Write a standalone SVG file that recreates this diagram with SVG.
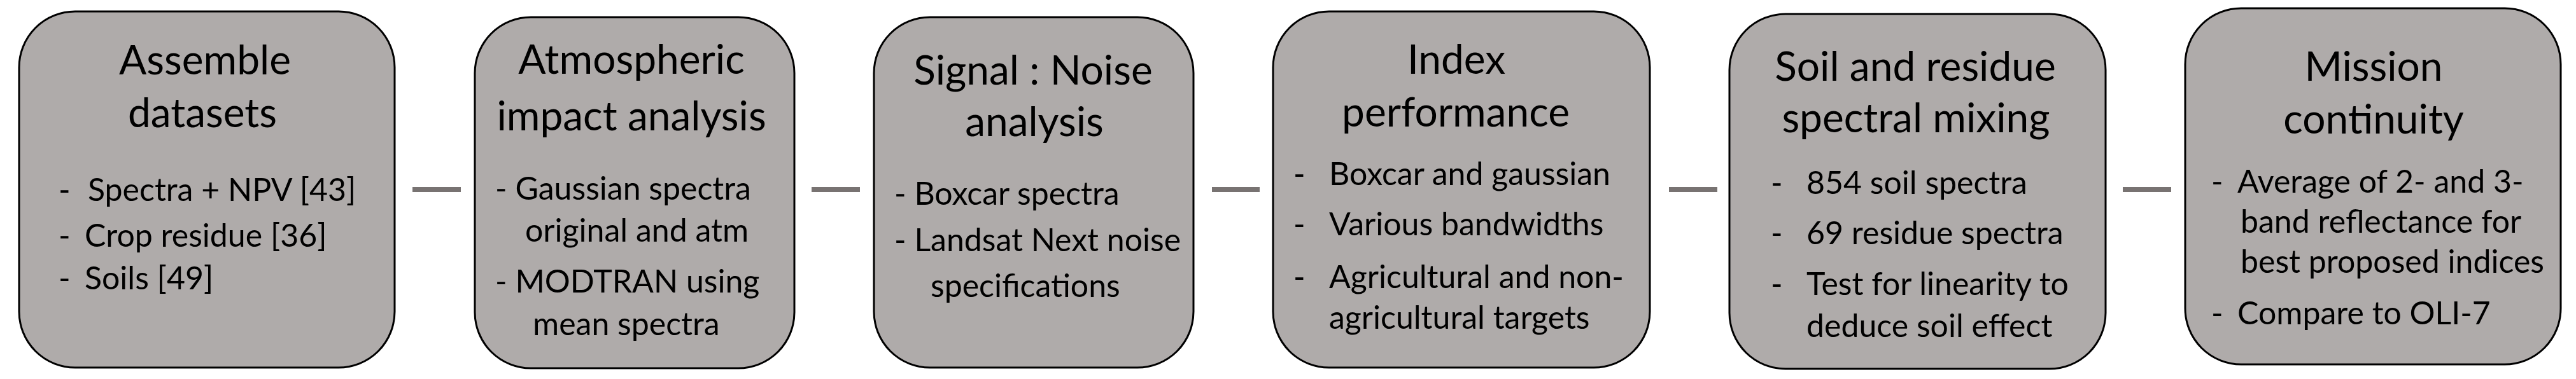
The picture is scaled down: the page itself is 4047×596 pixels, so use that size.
<svg xmlns="http://www.w3.org/2000/svg" width="4047" height="596" viewBox="0 0 4047 596">
<style>
.box{fill:#afabaa;stroke:#000;stroke-width:3}
.t{font-family:Lato,"Liberation Sans",sans-serif;font-size:64px;fill:#000;text-anchor:middle}
.b{font-family:Lato,"Liberation Sans",sans-serif;font-size:50px;fill:#000}
.c{stroke:#787372;stroke-width:8;fill:none}
</style>
<rect width="4047" height="596" fill="#fff"/>
<g id="connectors">
<line class="c" x1="648" y1="298" x2="724" y2="298"/>
<line class="c" x1="1275" y1="298" x2="1351" y2="298"/>
<line class="c" x1="1904" y1="298" x2="1979" y2="298"/>
<line class="c" x1="2622" y1="298" x2="2698" y2="298"/>
<line class="c" x1="3335" y1="298" x2="3411" y2="298"/>
</g>
<g id="n1">
<rect class="box" x="30" y="18" width="590" height="560" rx="88"/>
<text class="t" x="322" y="117">Assemble</text>
<text class="t" x="318" y="200">datasets</text>
<text class="b" y="316"><tspan x="92">-</tspan><tspan x="138">Spectra + NPV [43]</tspan></text>
<text class="b" y="388"><tspan x="92">-</tspan><tspan x="133">Crop residue [36]</tspan></text>
<text class="b" y="455"><tspan x="92">-</tspan><tspan x="133">Soils [49]</tspan></text>
</g>
<g id="n2">
<rect class="box" x="746" y="27" width="502" height="552" rx="88"/>
<text class="t" x="992" y="116">Atmospheric</text>
<text class="t" x="992" y="205">impact analysis</text>
<text class="b" x="778" y="314">- Gaussian spectra</text>
<text class="b" x="825" y="380">original and atm</text>
<text class="b" x="778" y="460">- MODTRAN using</text>
<text class="b" x="837" y="527">mean spectra</text>
</g>
<g id="n3">
<rect class="box" x="1373" y="27" width="502" height="551" rx="88"/>
<text class="t" x="1623" y="133">Signal : Noise</text>
<text class="t" x="1625" y="214">analysis</text>
<text class="b" x="1405" y="322">- Boxcar spectra</text>
<text class="b" x="1405" y="395">- Landsat Next noise</text>
<text class="b" x="1462" y="467">specifications</text>
</g>
<g id="n4">
<rect class="box" x="2000" y="18" width="592" height="560" rx="88"/>
<text class="t" x="2288" y="116">Index</text>
<text class="t" x="2287" y="199">performance</text>
<text class="b" y="291"><tspan x="2032">-</tspan><tspan x="2088">Boxcar and gaussian</tspan></text>
<text class="b" y="370"><tspan x="2032">-</tspan><tspan x="2088">Various bandwidths</tspan></text>
<text class="b" y="453"><tspan x="2032">-</tspan><tspan x="2088">Agricultural and non-</tspan></text>
<text class="b" y="517"><tspan x="2088">agricultural targets</tspan></text>
</g>
<g id="n5">
<rect class="box" x="2717" y="22" width="591" height="558" rx="88"/>
<text class="t" x="3009" y="127">Soil and residue</text>
<text class="t" x="3010" y="208">spectral mixing</text>
<text class="b" y="305"><tspan x="2782">-</tspan><tspan x="2838">854 soil spectra</tspan></text>
<text class="b" y="384"><tspan x="2782">-</tspan><tspan x="2838">69 residue spectra</tspan></text>
<text class="b" y="464"><tspan x="2782">-</tspan><tspan x="2838">Test for linearity to</tspan></text>
<text class="b" y="530"><tspan x="2838">deduce soil effect</tspan></text>
</g>
<g id="n6">
<rect class="box" x="3433" y="13" width="590" height="560" rx="88"/>
<text class="t" x="3729" y="127">Mission</text>
<text class="t" x="3729" y="210">continuity</text>
<text class="b" y="303"><tspan x="3474">-</tspan><tspan x="3515">Average of 2- and 3-</tspan></text>
<text class="b" y="366"><tspan x="3520">band reflectance for</tspan></text>
<text class="b" y="429"><tspan x="3520">best proposed indices</tspan></text>
<text class="b" y="510"><tspan x="3474">-</tspan><tspan x="3515">Compare to OLI-7</tspan></text>
</g>
</svg>
